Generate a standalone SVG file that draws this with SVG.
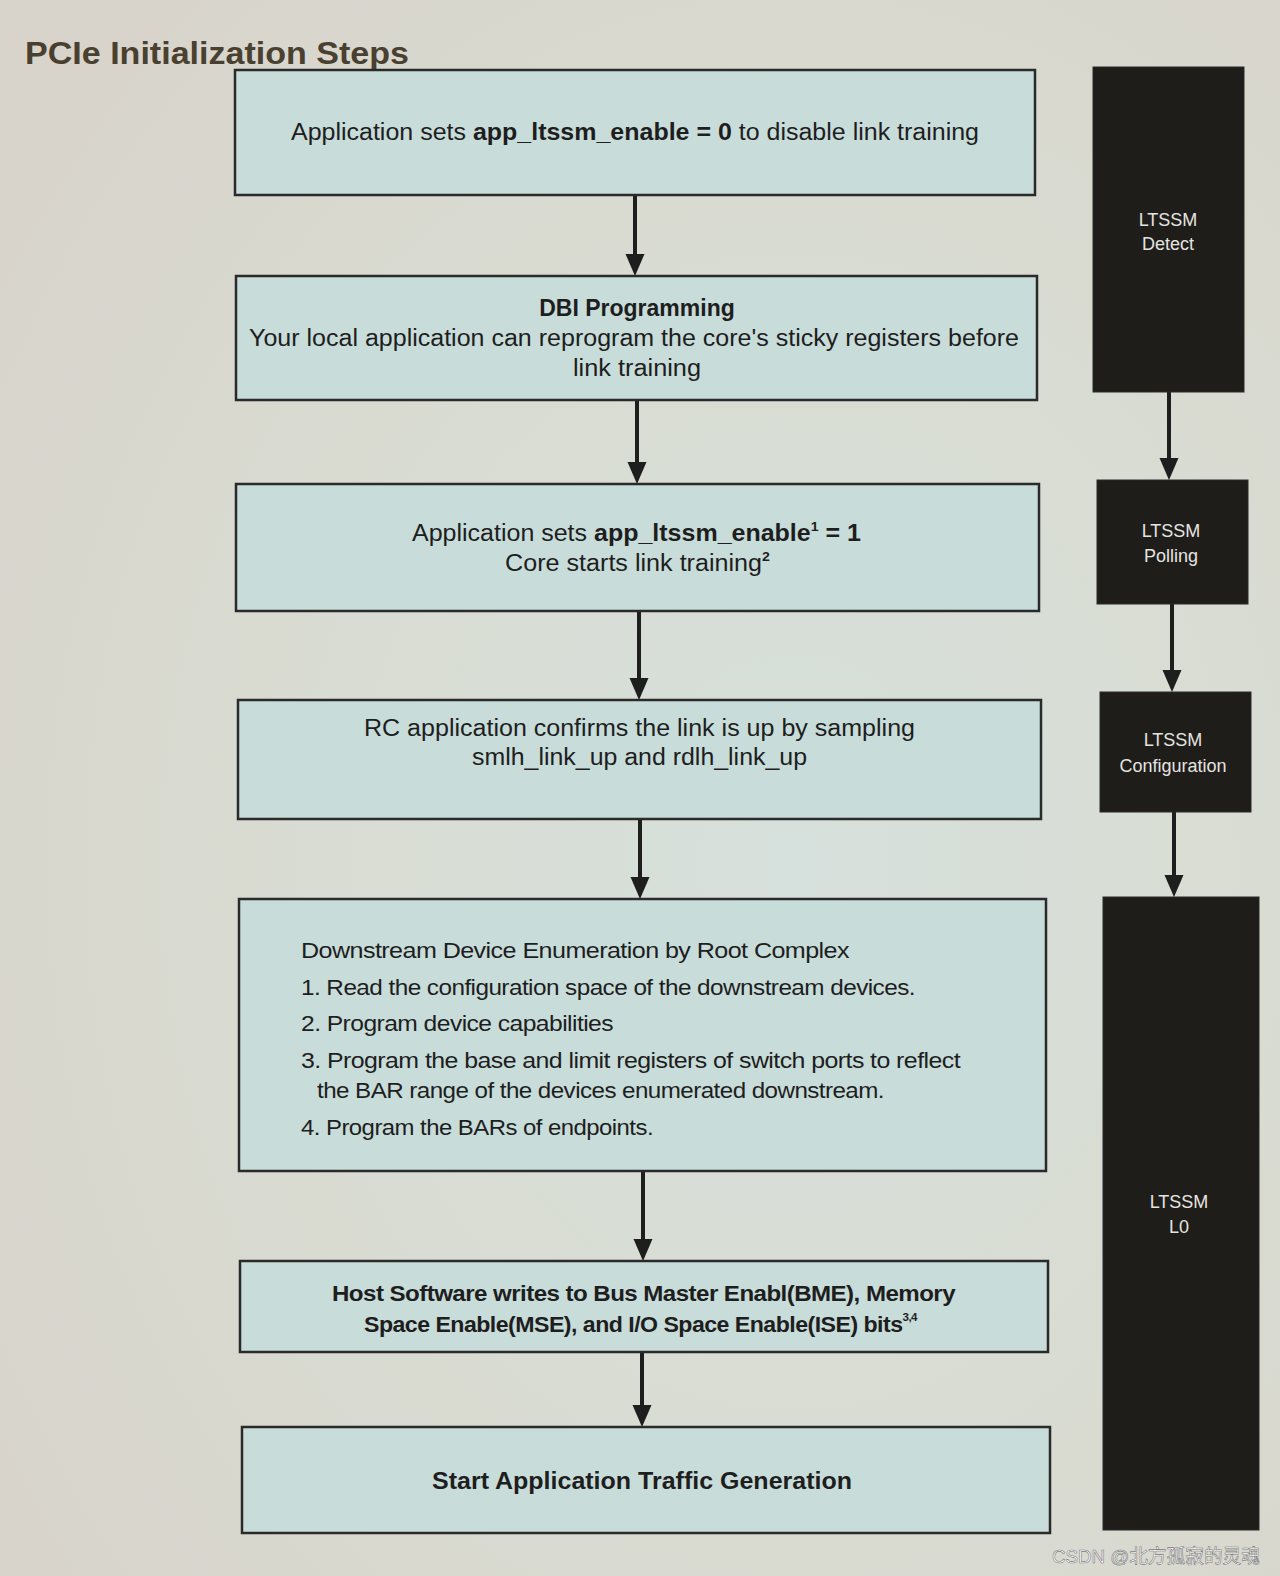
<svg xmlns="http://www.w3.org/2000/svg" width="1280" height="1576" viewBox="0 0 1280 1576">
<defs>
<radialGradient id="bg" cx="0.62" cy="0.55" r="0.75">
<stop offset="0" stop-color="#d6e0dc"/>
<stop offset="0.5" stop-color="#d9dcd2"/>
<stop offset="1" stop-color="#d8d4cc"/>
</radialGradient>
<marker id="ah" markerUnits="userSpaceOnUse" markerWidth="22" markerHeight="22" viewBox="0 0 22 22" refX="2" refY="11" orient="auto">
<path d="M0,1.5 L22,11 L0,20.5 Z" fill="#1e1e1e"/>
</marker>
<style>
.box{fill:#c8dcda;stroke:#2a2a2a;stroke-width:2.5}
.ltssm{fill:#1f1d19;stroke:#2a2a2a;stroke-width:1}
.t{font-family:"Liberation Sans",Arial,sans-serif;font-size:23px;fill:#1e1e1e}
.b{font-weight:bold}
.c{font-family:"Liberation Sans",Arial,sans-serif;font-size:22px;fill:#1e1e1e;letter-spacing:-0.5px}
.w{font-family:"Liberation Sans",Arial,sans-serif;font-size:18px;fill:#e4e4e0;text-anchor:middle}
.conn{stroke:#1e1e1e;stroke-width:4;fill:none}
</style>
</defs>
<rect x="0" y="0" width="1280" height="1576" fill="url(#bg)"/>
<text x="25" y="64" font-family="Liberation Sans,Arial,sans-serif" font-size="32" font-weight="bold" fill="#4a4030" textLength="384" lengthAdjust="spacingAndGlyphs">PCIe Initialization Steps</text>

<g id="connectors">
<line class="conn" x1="635" y1="195" x2="635" y2="256" marker-end="url(#ah)"/>
<line class="conn" x1="637" y1="400" x2="637" y2="464" marker-end="url(#ah)"/>
<line class="conn" x1="639" y1="611" x2="639" y2="680" marker-end="url(#ah)"/>
<line class="conn" x1="640" y1="819" x2="640" y2="879" marker-end="url(#ah)"/>
<line class="conn" x1="643" y1="1171" x2="643" y2="1241" marker-end="url(#ah)"/>
<line class="conn" x1="642" y1="1352" x2="642" y2="1407" marker-end="url(#ah)"/>
<line class="conn" x1="1169" y1="392" x2="1169" y2="460" marker-end="url(#ah)"/>
<line class="conn" x1="1172" y1="604" x2="1172" y2="672" marker-end="url(#ah)"/>
<line class="conn" x1="1174" y1="812" x2="1174" y2="877" marker-end="url(#ah)"/>
</g>

<g id="step1">
<rect class="box" x="235" y="70" width="800" height="125"/>
<text class="t" x="291" y="140" textLength="688" lengthAdjust="spacingAndGlyphs">Application sets <tspan class="b">app_ltssm_enable = 0</tspan> to disable link training</text>
</g>

<g id="step2">
<rect class="box" x="236" y="276" width="801" height="124"/>
<text class="t b" x="637" y="316" text-anchor="middle">DBI Programming</text>
<text class="t" x="249" y="346" textLength="770" lengthAdjust="spacingAndGlyphs">Your local application can reprogram the core's sticky registers before</text>
<text class="t" x="637" y="376" text-anchor="middle" textLength="128" lengthAdjust="spacingAndGlyphs">link training</text>
</g>

<g id="step3">
<rect class="box" x="236" y="484" width="803" height="127"/>
<text class="t" x="412" y="541" textLength="449" lengthAdjust="spacingAndGlyphs">Application sets <tspan class="b">app_ltssm_enable</tspan><tspan font-size="13" dy="-10" class="b">1</tspan><tspan dy="10" class="b"> = 1</tspan></text>
<text class="t" x="505" y="571" textLength="265" lengthAdjust="spacingAndGlyphs">Core starts link training<tspan font-size="13" dy="-10" class="b">2</tspan></text>
</g>

<g id="step4">
<rect class="box" x="238" y="700" width="803" height="119"/>
<text class="t" x="364" y="736" textLength="551" lengthAdjust="spacingAndGlyphs">RC application confirms the link is up by sampling</text>
<text class="t" x="472" y="765" textLength="335" lengthAdjust="spacingAndGlyphs">smlh_link_up and rdlh_link_up</text>
</g>

<g id="step5">
<rect class="box" x="239" y="899" width="807" height="272"/>
<text class="c" x="301" y="958" textLength="548" lengthAdjust="spacingAndGlyphs">Downstream Device Enumeration by Root Complex</text>
<text class="c" x="301" y="995" textLength="614" lengthAdjust="spacingAndGlyphs">1. Read the configuration space of the downstream devices.</text>
<text class="c" x="301" y="1031" textLength="312" lengthAdjust="spacingAndGlyphs">2. Program device capabilities</text>
<text class="c" x="301" y="1068" textLength="659" lengthAdjust="spacingAndGlyphs">3. Program the base and limit registers of switch ports to reflect</text>
<text class="c" x="317" y="1098" textLength="567" lengthAdjust="spacingAndGlyphs">the BAR range of the devices enumerated downstream.</text>
<text class="c" x="301" y="1135" textLength="352" lengthAdjust="spacingAndGlyphs">4. Program the BARs of endpoints.</text>
</g>

<g id="step6">
<rect class="box" x="240" y="1261" width="808" height="91"/>
<text class="c b" x="332" y="1301" textLength="623" lengthAdjust="spacingAndGlyphs">Host Software writes to Bus Master Enabl(BME), Memory</text>
<text class="c b" x="364" y="1332" textLength="553" lengthAdjust="spacingAndGlyphs">Space Enable(MSE), and I/O Space Enable(ISE) bits<tspan font-size="11" dy="-11">3,4</tspan></text>
</g>

<g id="step7">
<rect class="box" x="242" y="1427" width="808" height="106"/>
<text class="t b" x="432" y="1489" textLength="420" lengthAdjust="spacingAndGlyphs">Start Application Traffic Generation</text>
</g>

<g id="ltssm-detect">
<rect class="ltssm" x="1093" y="67" width="151" height="325"/>
<text class="w" x="1168" y="226">LTSSM</text>
<text class="w" x="1168" y="250">Detect</text>
</g>
<g id="ltssm-polling">
<rect class="ltssm" x="1097" y="480" width="151" height="124"/>
<text class="w" x="1171" y="537">LTSSM</text>
<text class="w" x="1171" y="562">Polling</text>
</g>
<g id="ltssm-configuration">
<rect class="ltssm" x="1100" y="692" width="151" height="120"/>
<text class="w" x="1173" y="746">LTSSM</text>
<text class="w" x="1173" y="772">Configuration</text>
</g>
<g id="ltssm-l0">
<rect class="ltssm" x="1103" y="897" width="156" height="633"/>
<text class="w" x="1179" y="1208">LTSSM</text>
<text class="w" x="1179" y="1233">L0</text>
</g>

<text x="1052" y="1563" font-family="Liberation Sans,Noto Sans CJK SC,sans-serif" font-size="19" fill="#ffffff" stroke="#7a7a7a" stroke-width="0.6" textLength="208" lengthAdjust="spacingAndGlyphs">CSDN @北方孤寂的灵魂</text>
</svg>
